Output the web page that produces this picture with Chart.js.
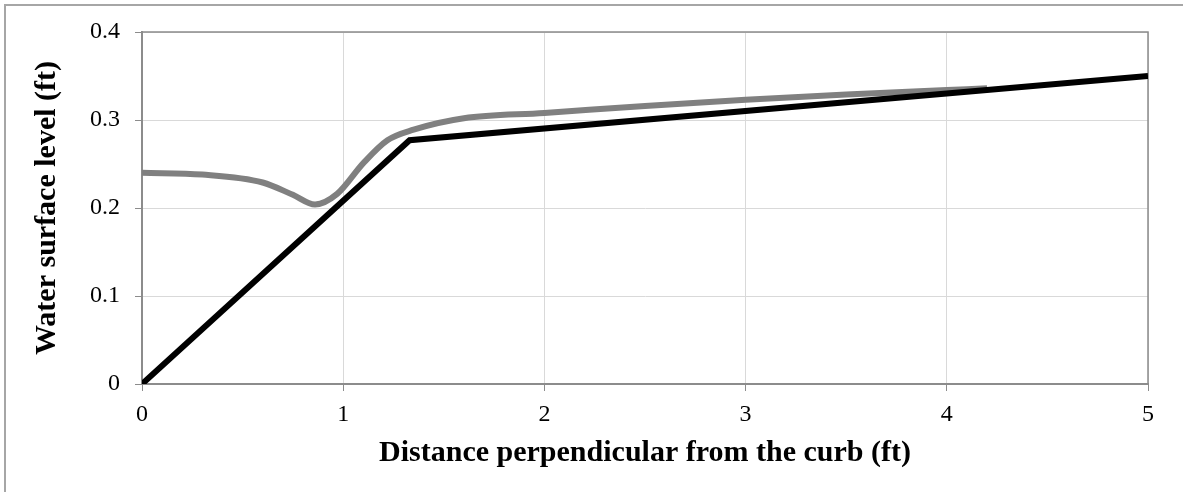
<!DOCTYPE html>
<html>
<head>
<meta charset="utf-8">
<script src="https://cdn.jsdelivr.net/npm/chart.js@4"></script>
<style>
  html, body { margin: 0; padding: 0; background: #fff; overflow: hidden; }
</style>
</head>
<body>
<canvas id="grafico" width="1183" height="492"></canvas>
<script>
// linha preta (perfil da sarjeta)
const curbX = [0, 1.33, 5];
const curbY = [0, 0.277, 0.35];

// linha cinza (nivel da agua)
const waterX = [0, 0.3, 0.6, 0.75, 0.86, 0.97, 1.1, 1.22, 1.35, 1.6, 2.0, 2.5, 3.0, 3.5, 4.0, 4.2];
const waterY = [0.240, 0.238, 0.229, 0.215, 0.204, 0.216, 0.251, 0.277, 0.289, 0.302, 0.308, 0.316, 0.323, 0.329, 0.334, 0.336];

const xTitle = 'Distance perpendicular from the curb (ft)';
const yTitle = 'Water surface level (ft)';

function pontos(xs, ys) {
  return xs.map((x, i) => ({ x, y: ys[i] }));
}

const bordas = {
  id: 'bordas',
  beforeDatasetsDraw(chart) {
    const { ctx, chartArea: a } = chart;
    ctx.save();
    ctx.strokeStyle = '#8c8c8c';
    ctx.lineWidth = 1.5;
    ctx.beginPath();
    ctx.moveTo(a.left, a.top);
    ctx.lineTo(a.right, a.top);
    ctx.lineTo(a.right, a.bottom);
    ctx.stroke();
    ctx.restore();
  },
  afterDraw(chart) {
    const ctx = chart.ctx;
    ctx.save();
    ctx.strokeStyle = '#a6a6a6';
    ctx.lineWidth = 2;
    ctx.strokeRect(5, 5, 1400, 800);
    ctx.restore();
  }
};

Chart.defaults.font.family = '"Liberation Serif", "Times New Roman", serif';
Chart.defaults.color = '#000';

new Chart(document.getElementById('grafico').getContext('2d'), {
  type: 'line',
  data: {
    datasets: [
      {
        data: pontos(curbX, curbY),
        borderColor: '#000',
        borderWidth: 6,
        borderJoinStyle: 'miter',
        pointRadius: 0,
        fill: false,
        tension: 0
      },
      {
        data: pontos(waterX, waterY),
        borderColor: '#808080',
        borderWidth: 6,
        pointRadius: 0,
        fill: false,
        cubicInterpolationMode: 'monotone'
      }
    ]
  },
  options: {
    responsive: false,
    animation: false,
    layout: { padding: { top: 32, right: 35, left: 0, bottom: 0 } },
    plugins: { legend: { display: false }, tooltip: { enabled: false } },
    scales: {
      x: {
        type: 'linear',
        min: 0,
        max: 5,
        ticks: { stepSize: 1, font: { size: 24 }, padding: 9 },
        grid: { color: '#d9d9d9', tickColor: '#8c8c8c', tickLength: 7 },
        border: { color: '#8c8c8c', width: 2 },
        title: { display: true, text: xTitle, font: { size: 30, weight: 'bold' }, padding: { top: 0, bottom: 21 } },
        afterFit(scale) { scale.height = 108; }
      },
      y: {
        min: 0,
        max: 0.4,
        ticks: { stepSize: 0.1, font: { size: 24 }, padding: 15 },
        grid: { color: '#d9d9d9', tickColor: '#8c8c8c', tickLength: 7 },
        border: { color: '#8c8c8c', width: 2 },
        title: { display: true, text: yTitle, font: { size: 30, weight: 'bold' }, padding: { top: 29, bottom: 0 } },
        afterFit(scale) { scale.width = 142; }
      }
    }
  },
  plugins: [bordas]
});
</script>
</body>
</html>
